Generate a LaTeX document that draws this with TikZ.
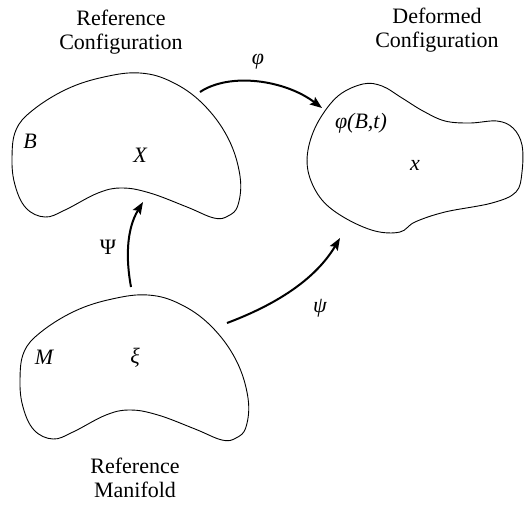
\documentclass[tikz,border=0pt]{standalone}
\usepackage{fontspec}
\setmainfont{Liberation Serif}
\usetikzlibrary{arrows.meta}
\begin{document}
\begin{tikzpicture}[x=1pt,y=-1pt,
  outline/.style={line width=0.9pt, line join=round},
  mapping/.style={line width=2pt, -{Stealth[length=12pt,width=9pt,inset=2pt]}},
  title/.style={align=center, font=\fontsize{22}{24}\selectfont, inner sep=0pt},
  sym/.style={font=\fontsize{22}{24}\selectfont\itshape, inner sep=0pt}]
\useasboundingbox (0,0) rectangle (525,504);

% kidney-shaped body in the reference configuration
\draw[outline] plot[smooth cycle, tension=0.65] coordinates {
  (140,73) (172,82) (203,104) (228,138) (240,176) (238,205) (228,216)
  (214,218) (187,207) (150,193) (122,188) (98,193) (65,210) (45,217)
  (26,208) (15,185) (12,158) (16,130) (33,110) (67,89) (104,77)};

% the same shape for the reference manifold
\begin{scope}[shift={(8,222)}]
\draw[outline] plot[smooth cycle, tension=0.65] coordinates {
  (140,73) (172,82) (203,104) (228,138) (240,176) (238,205) (228,216)
  (214,218) (187,207) (150,193) (122,188) (98,193) (65,210) (45,217)
  (26,208) (15,185) (12,158) (16,130) (33,110) (67,89) (104,77)};
\end{scope}

% deformed body
\draw[outline] plot[smooth cycle, tension=0.6] coordinates {
  (363,84) (382,86) (402,98) (423,111) (445,121) (470,123) (497,121)
  (513,128) (522,145) (522,172) (516,192) (492,203) (445,212) (415,222)
  (400,232) (375,231) (345,218) (322,200) (309,175) (308,150) (318,122)
  (338,96)};

% titles
\node[title] (tref) at (121,32) {Reference\\Configuration};
\node[title] (tdef) at (437,30) {Deformed\\Configuration};
\node[title] (tman) at (135,478) {Reference\\Manifold};

% labels inside the bodies
\node[sym] (lB) at (30,141) {B};
\node[sym] (lX) at (140,155) {X};
\node[sym] (lM) at (44,357) {M};
\node[sym] (lxi) at (135,358) {ξ};
\node[sym] (lphiB) at (361,123) {φ(B,t)};
\node[sym] (lx) at (415,165) {x};

% mappings
\coordinate (phiS) at (200,92);
\coordinate (phiE) at (322,108);
\coordinate (PsiS) at (131,287);
\coordinate (PsiE) at (143,202);
\coordinate (psiS) at (227,323);
\coordinate (psiE) at (340,238);

\draw[mapping] (phiS) .. controls (230,72) and (285,80) .. (phiE);
\draw[mapping] (PsiS) .. controls (126,260) and (126,230) .. (PsiE);
\draw[mapping] (psiS) .. controls (275,305) and (315,280) .. (psiE);

\node[sym] (lphi) at (258,62) {φ};
\node[sym, font=\fontsize{22}{24}\selectfont\upshape] (lPsi) at (108,247) {Ψ};
\node[sym] (lpsi) at (320,308) {ψ};
\end{tikzpicture}
\end{document}
